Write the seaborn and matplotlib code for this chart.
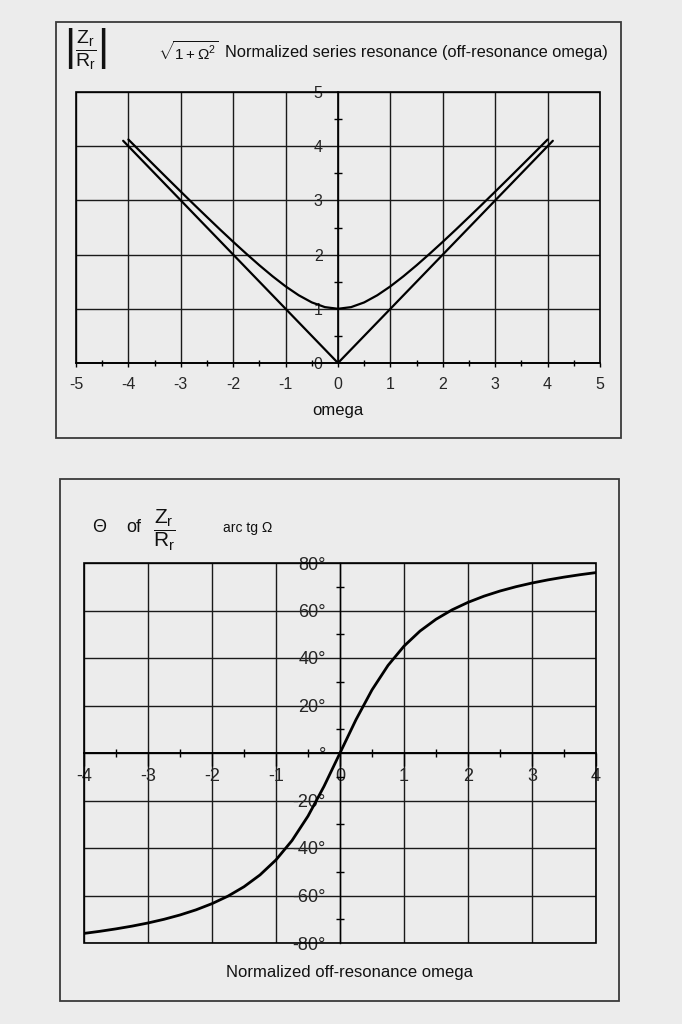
import numpy as np
import pandas as pd
import matplotlib
matplotlib.use('Agg')
import matplotlib.pyplot as plt
from matplotlib.patches import Rectangle
from matplotlib.ticker import MultipleLocator
import seaborn as sns

# top panel: |Zr/Rr| vs omega
omega_v = [-4.1, 0.0, 4.1]
mag_v = [4.1, 0.0, 4.1]

omega_c = [-4.0, -3.75, -3.5, -3.25, -3.0, -2.75, -2.5, -2.25, -2.0, -1.75, -1.5, -1.25,
           -1.0, -0.75, -0.5, -0.25, 0.0, 0.25, 0.5, 0.75, 1.0, 1.25, 1.5, 1.75,
           2.0, 2.25, 2.5, 2.75, 3.0, 3.25, 3.5, 3.75, 4.0]
mag_c = [4.123, 3.881, 3.640, 3.400, 3.162, 2.926, 2.693, 2.462, 2.236, 2.016, 1.803, 1.601,
         1.414, 1.250, 1.118, 1.031, 1.000, 1.031, 1.118, 1.250, 1.414, 1.601, 1.803, 2.016,
         2.236, 2.462, 2.693, 2.926, 3.162, 3.400, 3.640, 3.881, 4.123]

# bottom panel: phase in degrees
phase = [-75.96, -75.07, -74.05, -72.90, -71.57, -70.02, -68.20, -66.04, -63.43, -60.26, -56.31, -51.34,
         -45.00, -36.87, -26.57, -14.04, 0.0, 14.04, 26.57, 36.87, 45.00, 51.34, 56.31, 60.26,
         63.43, 66.04, 68.20, 70.02, 71.57, 72.90, 74.05, 75.07, 75.96]

top_xticks = [-5, -4, -3, -2, -1, 0, 1, 2, 3, 4, 5]
top_yticks = [0, 1, 2, 3, 4, 5]
bot_xticks = [-4, -3, -2, -1, 0, 1, 2, 3, 4]
bot_yticks = [-80, -60, -40, -20, 0, 20, 40, 60, 80]
bot_ylabels = ['-80°', '-60°', '-40°', '-20°', '°', '20°', '40°', '60°', '80°']

BG = '#ececec'
W, H = 682, 1024

sns.set_theme(style='white')
plt.rcParams['font.family'] = ['Liberation Sans', 'DejaVu Sans']
plt.rcParams['mathtext.fontset'] = 'custom'
plt.rcParams['mathtext.rm'] = 'Liberation Sans'
plt.rcParams['mathtext.it'] = 'Liberation Sans'
plt.rcParams['axes.facecolor'] = BG
plt.rcParams['figure.facecolor'] = BG
plt.rcParams['axes.unicode_minus'] = False
plt.rcParams['text.color'] = '#111111'

fig = plt.figure(figsize=(W / 100, H / 100), dpi=100)


def px_axes(x0, y0, x1, y1):
    return fig.add_axes([x0 / W, 1 - y1 / H, (x1 - x0) / W, (y1 - y0) / H])


def box(x0, y0, x1, y1):
    fig.patches.append(Rectangle((x0 / W, 1 - y1 / H), (x1 - x0) / W, (y1 - y0) / H,
                                 transform=fig.transFigure, fill=False,
                                 edgecolor='#3a3a3a', lw=1.3))


def ftext(x, y, s, **kw):
    fig.text(x / W, 1 - y / H, s, **kw)


def style_axes(ax):
    for sp in ['top', 'right', 'bottom', 'left']:
        ax.spines[sp].set_visible(False)
    ax.add_patch(Rectangle((0, 0), 1, 1, transform=ax.transAxes, fill=False,
                           edgecolor='black', lw=1.2, clip_on=False, zorder=3))
    ax.grid(True, which='major', color='#1a1a1a', lw=1.0)
    ax.set_xlabel('')
    ax.set_ylabel('')


# ---------- top panel ----------
box(56, 22, 621, 438)
ax1 = px_axes(76, 92, 600, 363)
df_v = pd.DataFrame({'omega': omega_v, 'mag': mag_v})
df_c = pd.DataFrame({'omega': omega_c, 'mag': mag_c})
sns.lineplot(data=df_v, x='omega', y='mag', ax=ax1, color='black', lw=1.6, sort=False)
sns.lineplot(data=df_c, x='omega', y='mag', ax=ax1, color='black', lw=1.6, sort=False)
ax1.set_xlim(-5, 5)
ax1.set_ylim(0, 5)
style_axes(ax1)
ax1.spines['left'].set_visible(True)
ax1.spines['left'].set_position(('data', 0))
ax1.spines['left'].set_color('black')
ax1.spines['left'].set_linewidth(1.2)
ax1.spines['bottom'].set_visible(True)
ax1.spines['bottom'].set_color('black')
ax1.spines['bottom'].set_linewidth(1.2)
ax1.set_xticks(top_xticks)
ax1.set_yticks(top_yticks)
ax1.xaxis.set_minor_locator(MultipleLocator(0.5))
ax1.yaxis.set_minor_locator(MultipleLocator(0.5))
ax1.tick_params(axis='x', which='major', direction='out', length=3, width=1, color='black',
                bottom=True, pad=7, labelsize=11.5)
ax1.tick_params(axis='x', which='minor', direction='inout', length=4, width=1, color='black', bottom=True)
ax1.tick_params(axis='y', which='major', direction='inout', length=0, left=True, pad=11, labelsize=11.5)
ax1.tick_params(axis='y', which='minor', direction='inout', length=6, width=1, color='black', left=True)
ftext(338, 410, 'omega', ha='center', va='center', fontsize=12)
ftext(85, 49, r'$\left|\dfrac{\mathrm{Z_r}}{\mathrm{R_r}}\right|$', ha='center', va='center', fontsize=14)
ftext(188, 52, r'$\sqrt{1+\Omega^2}$', ha='center', va='center', fontsize=11)
ftext(225, 52, 'Normalized series resonance (off-resonance omega)', ha='left', va='center', fontsize=11.8)

# ---------- bottom panel ----------
box(60, 479, 619, 1001)
ax2 = px_axes(84, 563, 596, 943)
df_p = pd.DataFrame({'omega': omega_c, 'phase': phase})
sns.lineplot(data=df_p, x='omega', y='phase', ax=ax2, color='black', lw=2.0, sort=False)
ax2.set_xlim(-4, 4)
ax2.set_ylim(-80, 80)
style_axes(ax2)
ax2.spines['left'].set_visible(True)
ax2.spines['left'].set_position(('data', 0))
ax2.spines['left'].set_color('black')
ax2.spines['left'].set_linewidth(1.0)
ax2.spines['bottom'].set_visible(True)
ax2.spines['bottom'].set_position(('data', 0))
ax2.spines['bottom'].set_color('black')
ax2.spines['bottom'].set_linewidth(1.4)
ax2.set_xticks(bot_xticks)
ax2.set_yticks(bot_yticks)
ax2.set_yticklabels(bot_ylabels)
ax2.xaxis.set_minor_locator(MultipleLocator(0.5))
ax2.yaxis.set_minor_locator(MultipleLocator(10))
ax2.tick_params(axis='x', which='major', direction='out', length=9, width=1, color='black',
                bottom=True, pad=2, labelsize=13)
ax2.tick_params(axis='x', which='minor', direction='inout', length=6, width=1, color='black', bottom=True)
ax2.tick_params(axis='y', which='major', direction='inout', length=0, left=True, pad=10, labelsize=13)
ax2.tick_params(axis='y', which='minor', direction='inout', length=6, width=1, color='black', left=True)
ftext(350, 973, 'Normalized off-resonance omega', ha='center', va='center', fontsize=12)
ftext(99, 528, 'Θ', ha='center', va='center', fontsize=13)
ftext(134, 528, 'of', ha='center', va='center', fontsize=13)
ftext(164, 530, r'$\dfrac{\mathrm{Z_r}}{\mathrm{R_r}}$', ha='center', va='center', fontsize=15)
ftext(223, 528, 'arc tg Ω', ha='left', va='center', fontsize=10)

fig.savefig('out.png', dpi=100, facecolor=BG)
